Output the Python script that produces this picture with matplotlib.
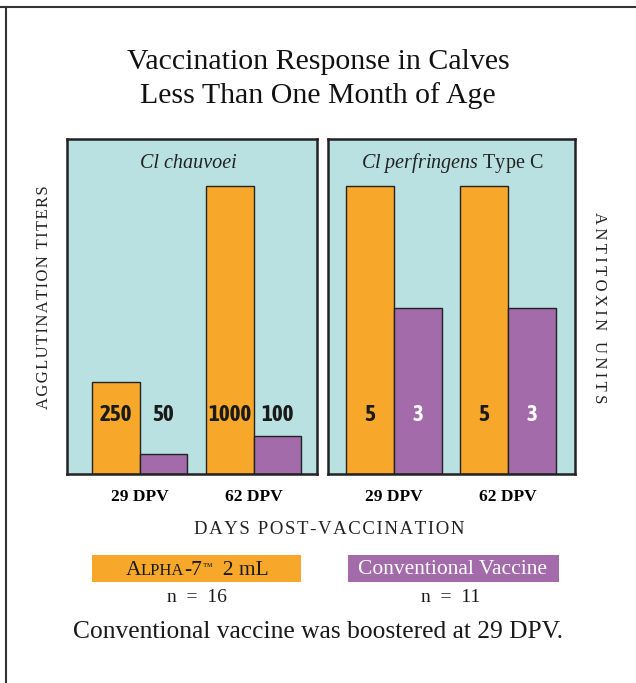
import numpy as np
import matplotlib
matplotlib.use('Agg')
from matplotlib import pyplot as plt
from matplotlib import font_manager
from matplotlib.patches import Rectangle
from matplotlib.lines import Line2D
import matplotlib.transforms as mtransforms

plt.rcParams['font.family'] = ['Liberation Serif', 'DejaVu Serif']
plt.rcParams['mathtext.fontset'] = 'custom'
plt.rcParams['mathtext.it'] = 'Liberation Serif:italic'
plt.rcParams['mathtext.rm'] = 'Liberation Serif'

# data
days = ['29 DPV', '62 DPV']
# bar heights as percent of panel height
chauvoei_alpha = [27.5, 86]
chauvoei_conv = [6, 11.3]
perf_alpha = [86, 86]
perf_conv = [49.5, 49.5]
# printed values
chauvoei_alpha_lbl = ['250', '1000']
chauvoei_conv_lbl = ['50', '100']
perf_alpha_lbl = ['5', '5']
perf_conv_lbl = ['3', '3']

ORANGE = '#F7A82B'
PURPLE = '#A36BAA'
BG = '#B9E1E2'
EDGE = '#222222'

def wnum(w):
    if isinstance(w, str):
        return {'bold': 700, 'heavy': 800, 'black': 900, 'semibold': 600, 'demibold': 600}.get(w, 400)
    return w

# narrow upright bold sans for the numbers, else Roboto
narrow = sorted({f.name for f in font_manager.fontManager.ttflist
                 if ('Narrow' in f.name or 'Condensed' in f.name)
                 and 'Serif' not in f.name and 'Mono' not in f.name
                 and f.style == 'normal' and wnum(f.weight) >= 600})
if narrow:
    NUM_FONT = [narrow[0], 'DejaVu Sans']
    NUM_SIZE = 16.5
else:
    NUM_FONT = ['Roboto', 'DejaVu Sans']
    NUM_SIZE = 14.5

W, H = 636, 683
fig = plt.figure(figsize=(W / 100, H / 100), dpi=100)

def fx(px):
    return px / W

def fy(py):
    return 1 - py / H

ax1 = fig.add_axes([fx(67), fy(474), fx(317) - fx(67), fy(139) - fy(474)])
ax2 = fig.add_axes([fx(328), fy(474), fx(575) - fx(328), fy(139) - fy(474)])

bw = 0.42
x = np.arange(len(days))

def panel(ax, a_vals, c_vals, a_lbl, c_lbl, c_txtcolor, xlim):
    ax.set_facecolor(BG)
    ax.bar(x - bw / 2, a_vals, bw, color=ORANGE, edgecolor=EDGE, linewidth=1.0, zorder=2)
    ax.bar(x + bw / 2, c_vals, bw, color=PURPLE, edgecolor=EDGE, linewidth=1.0, zorder=2)
    ax.set_xlim(*xlim)
    ax.set_ylim(0, 100)
    trans = mtransforms.blended_transform_factory(ax.transData, ax.transAxes)
    for i in range(len(days)):
        ax.text(x[i] - bw / 2, 0.176, a_lbl[i], transform=trans, ha='center', va='center',
                fontsize=NUM_SIZE, fontweight='bold', style='normal', family=NUM_FONT,
                color='#1a1a1a', zorder=3)
        ax.text(x[i] + bw / 2, 0.176, c_lbl[i], transform=trans, ha='center', va='center',
                fontsize=NUM_SIZE, fontweight='bold', style='normal', family=NUM_FONT,
                color=c_txtcolor, zorder=3)
    ax.set_yticks([])
    ax.set_xticks(x)
    ax.set_xticklabels(days, fontsize=12.5, fontweight='bold')
    ax.tick_params(axis='x', length=0, pad=11)
    for s in ax.spines.values():
        s.set_linewidth(1.8)
        s.set_color(EDGE)

panel(ax1, chauvoei_alpha, chauvoei_conv, chauvoei_alpha_lbl, chauvoei_conv_lbl, '#1a1a1a',
      (-0.636, 1.557))
panel(ax2, perf_alpha, perf_conv, perf_alpha_lbl, perf_conv_lbl, 'white', (-0.579, 1.588))

ax1.text(0.484, 0.928, 'Cl chauvoei', transform=ax1.transAxes, ha='center', va='center',
         fontsize=14.5, style='italic', color='#222222')
ax2.text(0.502, 0.928, r'$\mathit{Cl\ perfringens}$ Type C', transform=ax2.transAxes,
         ha='center', va='center', fontsize=14.5, color='#222222')

def spaced(s, sep):
    return sep.join(s)

# titles and labels
fig.text(fx(318), fy(62), 'Vaccination Response in Calves', ha='center', va='center',
         fontsize=21.5, color='#111111')
fig.text(fx(318), fy(96), 'Less Than One Month of Age', ha='center', va='center',
         fontsize=21.5, color='#111111')
fig.text(fx(44), fy(297), spaced('AGGLUTINATION TITERS', '\u200a'), rotation=90,
         ha='center', va='center', fontsize=12, color='#222222')
fig.text(fx(599), fy(308), spaced('ANTITOXIN UNITS', '\u2009'), rotation=270,
         ha='center', va='center', fontsize=12, color='#222222')
fig.text(fx(329), fy(529), spaced('DAYS POST-VACCINATION', '\u200a'), ha='center',
         va='center', fontsize=13.5, color='#222222')

# legend boxes
fig.add_artist(Rectangle((fx(92), fy(582)), fx(301) - fx(92), fy(555) - fy(582),
                         transform=fig.transFigure, color=ORANGE, lw=0))
fig.add_artist(Rectangle((fx(348), fy(582)), fx(559) - fx(348), fy(555) - fy(582),
                         transform=fig.transFigure, color=PURPLE, lw=0))
fig.text(fx(453), fy(569), 'Conventional Vaccine', ha='center', va='center',
         fontsize=15.5, color='white')

# ALPHA-7 label with small caps, built piece by piece
pieces = [('A', 15.5, 0), ('LPHA', 12, 0), ('-7', 15.5, 0), ('\u2122', 7, 5), ('  2 mL', 15.5, 0)]
objs = [fig.text(0, fy(575), s, fontsize=fs, ha='left', va='baseline', color='#1a1a1a')
        for s, fs, up in pieces]
fig.canvas.draw()
r = fig.canvas.get_renderer()
widths = [o.get_window_extent(r).width for o in objs]
x0 = 197 - sum(widths) / 2
for o, (s, fs, up), w in zip(objs, pieces, widths):
    o.set_position((fx(x0), fy(575 - up)))
    x0 += w

fig.text(fx(197), fy(598), 'n  =  16', ha='center', va='center', fontsize=14, color='#1a1a1a')
fig.text(fx(451), fy(598), 'n  =  11', ha='center', va='center', fontsize=14, color='#1a1a1a')
fig.text(fx(318), fy(632), 'Conventional vaccine was boostered at 29 DPV.', ha='center',
         va='center', fontsize=18.4, color='#1a1a1a')

# outer frame lines
fig.add_artist(Line2D([0, 1], [fy(7), fy(7)], transform=fig.transFigure, color='#333333', lw=1.5))
fig.add_artist(Line2D([fx(6), fx(6)], [0, fy(7)], transform=fig.transFigure, color='#333333', lw=1.5))

fig.savefig('out.png', dpi=100)
